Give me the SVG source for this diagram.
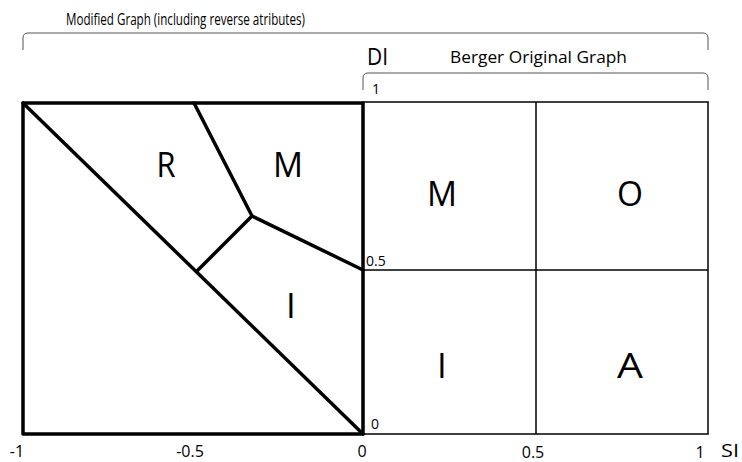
<svg xmlns="http://www.w3.org/2000/svg" width="742" height="462" viewBox="0 0 742 462">
<style>
text{font-family:"Open Sans","Liberation Sans",sans-serif;fill:#000}
.thick{fill:none;stroke:#000;stroke-width:3.5;stroke-linejoin:round;stroke-linecap:round}
.thin{fill:none;stroke:#000;stroke-width:1.5}
.br{fill:none;stroke:#555;stroke-width:1}
.big{font-size:35px;text-anchor:middle}
.ax{font-size:16px;text-anchor:middle}
.sm{font-size:14px}
</style>
<rect width="742" height="462" fill="#fff"/>
<g id="brackets">
<path class="br" d="M23,50 V38 Q23,33 28,33 H703 Q708,33 708,38 V50"/>
<path class="br" d="M363,90 V78 Q363,73 368,73 H703 Q708,73 708,78 V90"/>
</g>
<g id="right-graph">
<rect class="thin" x="363" y="102" width="345" height="332"/>
<line class="thin" x1="536" y1="102" x2="536" y2="434"/>
<line class="thin" x1="363" y1="270" x2="708" y2="270"/>
</g>
<g id="left-graph">
<rect class="thick" x="23" y="103" width="340" height="331"/>
</g>
<g id="connectors">
<path class="thick" d="M23,103 L363,434"/>
<path class="thick" d="M194,103 L252,216 L363,270"/>
<path class="thick" d="M252,216 L197,271"/>
</g>
<g id="labels">
<text x="66" y="25" font-size="17" textLength="239" lengthAdjust="spacingAndGlyphs">Modified Graph (including reverse atributes)</text>
<text x="367" y="65" font-size="23" textLength="21" lengthAdjust="spacingAndGlyphs">DI</text>
<text x="450" y="63" font-size="17" textLength="177" lengthAdjust="spacingAndGlyphs">Berger Original Graph</text>
<text class="sm" x="372" y="94">1</text>
<text class="sm" x="366" y="266">0.5</text>
<text class="sm" x="371" y="429">0</text>
<text class="ax" x="17" y="457">-1</text>
<text class="ax" x="190" y="457">-0.5</text>
<text class="ax" x="362" y="457">0</text>
<text class="ax" x="533" y="458">0.5</text>
<text class="ax" x="700" y="458">1</text>
<text x="721" y="457" font-size="19" textLength="18" lengthAdjust="spacingAndGlyphs">SI</text>
<text class="big" x="166" y="177" textLength="19" lengthAdjust="spacingAndGlyphs">R</text>
<text class="big" x="288" y="177" textLength="30" lengthAdjust="spacingAndGlyphs">M</text>
<text class="big" x="291" y="318">I</text>
<text class="big" x="442" y="206" textLength="30" lengthAdjust="spacingAndGlyphs">M</text>
<text class="big" x="630" y="206" textLength="26" lengthAdjust="spacingAndGlyphs">O</text>
<text class="big" x="442" y="378">I</text>
<text class="big" x="630" y="378" textLength="26" lengthAdjust="spacingAndGlyphs">A</text>
</g>
</svg>
